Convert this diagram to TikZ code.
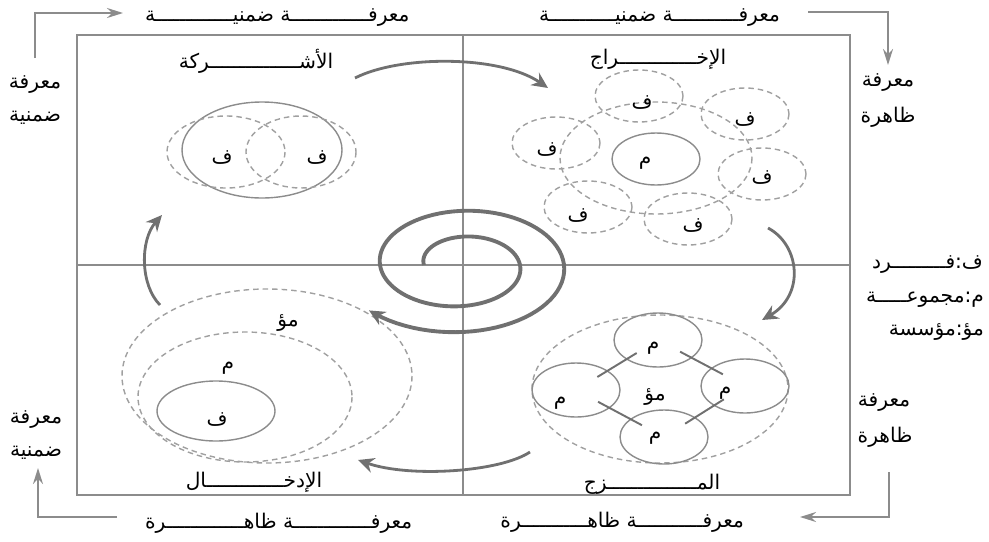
\documentclass[tikz,border=0pt]{standalone}
\usepackage{fontspec}
\usepackage{tikz}
\usetikzlibrary{arrows.meta}
\newfontfamily\arabicfont[Script=Arabic]{DejaVu Sans}
\TeXXeTstate=1
\definecolor{framegray}{HTML}{8C8C8C}
\definecolor{arcgray}{HTML}{707070}
\definecolor{dashgray}{HTML}{A0A0A0}
\newcommand{\rtl}[1]{\beginR #1\endR}

\begin{document}
\begin{tikzpicture}[x=0.02cm,y=-0.02cm,
  txt/.style={font=\arabicfont\fontsize{11.5}{13}\selectfont,inner sep=1pt},
  quadframe/.style={draw=framegray,line width=0.8pt},
  solidc/.style={draw=framegray,line width=0.8pt},
  dashc/.style={draw=dashgray,line width=0.8pt,dash pattern=on 1.1mm off 0.8mm},
  cyclearrow/.style={draw=arcgray,line width=1.6pt,-{Stealth[length=3.2mm,width=3mm]}},
  spiral/.style={draw=arcgray,line width=2.2pt,-{Stealth[length=3.2mm,width=3mm]}},
  cornerarrow/.style={draw=framegray,line width=1.1pt,-{Stealth[length=3.2mm,width=2mm]}},
  grouplink/.style={draw=arcgray,line width=1.1pt,shorten <=0.5cm,shorten >=0.5cm}]
\useasboundingbox (0,0) rectangle (989,541);
% frame and quadrants
\draw[quadframe] (77,35) rectangle (850,495);
\draw[quadframe] (463,35) -- (463,495);
\draw[quadframe] (77,265) -- (850,265);

% outer texts
\node[txt,anchor=west] (topL) at (143,18) {\rtl{معرفـــــــــــــة ضمنيـــــــــــــة}};
\node[txt,anchor=east] (topR) at (782,18) {\rtl{معرفـــــــــــة ضمنيـــــــــــة}};
\node[txt,anchor=west] (botL) at (143,523) {\rtl{معرفـــــــــــــة ظاهـــــــــــــرة}};
\node[txt,anchor=east] (botR) at (746,522) {\rtl{معرفـــــــــــة ظاهـــــــــــرة}};
\node[txt] (lt1) at (35,85) {\rtl{معرفة}};
\node[txt] (lt2) at (35,118) {\rtl{ضمنية}};
\node[txt] (rt1) at (888,83) {\rtl{معرفة}};
\node[txt] (rt2) at (888,117) {\rtl{ظاهرة}};
\node[txt] (lb1) at (36,420) {\rtl{معرفة}};
\node[txt] (lb2) at (36,453) {\rtl{ضمنية}};
\node[txt] (rb1) at (884,403) {\rtl{معرفة}};
\node[txt] (rb2) at (885,437) {\rtl{ظاهرة}};

% corner arrows
\coordinate (c1a) at (35,58);   \coordinate (c1b) at (123,13);
\coordinate (c2a) at (808,12);  \coordinate (c2b) at (888,65);
\coordinate (c3a) at (889,472); \coordinate (c3b) at (800,517);
\coordinate (c4a) at (117,517); \coordinate (c4b) at (38,468);
\draw[cornerarrow] (c1a) |- (c1b);
\draw[cornerarrow] (c2a) -| (c2b);
\draw[cornerarrow] (c3a) |- (c3b);
\draw[cornerarrow] (c4a) -| (c4b);

% legend
\node[txt,anchor=east] (key1) at (985,265) {\rtl{ف:فـــــــــرد}};
\node[txt,anchor=east] (key2) at (986,300) {\rtl{م:مجموعـــــة}};
\node[txt,anchor=east] (key3) at (986,332) {\rtl{مؤ:مؤسسة}};

% quadrant titles
\node[txt] (socl) at (256,61) {\rtl{الأشـــــــــــــــركة}};
\node[txt] (extl) at (658,59) {\rtl{الإخـــــــــــــراج}};
\node[txt] (intl) at (254,482) {\rtl{الإدخـــــــــــــال}};
\node[txt] (coml) at (652,484) {\rtl{المـــــــــــــــزج}};

% top left
\draw[solidc] (262,150) ellipse [x radius=80, y radius=48];
\draw[dashc] (226,152) ellipse [x radius=59, y radius=36];
\draw[dashc] (301,152) ellipse [x radius=55, y radius=36];
\node[txt] (sf1) at (222,158) {\rtl{ف}};
\node[txt] (sf2) at (317,158) {\rtl{ف}};

% top right
\draw[dashc] (656,158) ellipse [x radius=96, y radius=56];
\draw[solidc] (656,159) ellipse [x radius=44, y radius=26];
\node[txt] (em) at (645,163) {\rtl{م}};
\foreach \cx/\cy/\lx/\ly/\nm in {639/96/642/103/e1, 745/114/745/120/e2, 762/174/762/178/e3,
    688/219/693/226/e4, 588/207/578/216/e5, 556/143/547/150/e6}{
  \draw[dashc] (\cx,\cy) ellipse [x radius=44, y radius=26];
  \node[txt] (\nm) at (\lx,\ly) {\rtl{ف}};
}

% bottom left
\draw[dashc] (267,376) ellipse [x radius=145, y radius=87];
\draw[dashc] (245,397) ellipse [x radius=107, y radius=65];
\draw[solidc] (216,411) ellipse [x radius=59, y radius=30];
\node[txt] (io) at (288,323) {\rtl{مؤ}};
\node[txt] (ig) at (228,368) {\rtl{م}};
\node[txt] (ii) at (217,420) {\rtl{ف}};

% bottom right
\draw[dashc] (660,389) ellipse [x radius=128, y radius=74];
\coordinate (gT) at (658,340);
\coordinate (gL) at (576,390);
\coordinate (gR) at (745,386);
\coordinate (gB) at (664,437);
\foreach \g in {gT,gL,gR,gB}
  \draw[solidc] (\g) ellipse [x radius=44, y radius=27];
\draw[grouplink] (gT) -- (gL);
\draw[grouplink] (gT) -- (gR);
\draw[grouplink] (gL) -- (gB);
\draw[grouplink] (gB) -- (gR);
\node[txt] (mT) at (653,348) {\rtl{م}};
\node[txt] (mL) at (560,403) {\rtl{م}};
\node[txt] (mR) at (725,393) {\rtl{م}};
\node[txt] (mB) at (655,438) {\rtl{م}};
\node[txt] (mO) at (655,397) {\rtl{مؤ}};

% cycle arrows
\coordinate (a1) at (355,78);  \coordinate (a2) at (548,88);
\coordinate (a3) at (768,228); \coordinate (a4) at (762,320);
\coordinate (a5) at (530,452); \coordinate (a6) at (358,460);
\coordinate (a7) at (160,305); \coordinate (a8) at (162,215);
\draw[cyclearrow] (a1) .. controls (400,55) and (500,55) .. (a2);
\draw[cyclearrow] (a3) .. controls (800,245) and (805,295) .. (a4);
\draw[cyclearrow] (a5) .. controls (500,472) and (410,478) .. (a6);
\draw[cyclearrow] (a7) .. controls (140,285) and (140,240) .. (a8);

% spiral
\draw[spiral] plot[domain=0:680,samples=160,variable=\t]
  ({461+(37+0.12222*\t)*cos(180-\t)},{265-(37+0.12222*\t)/1.7*sin(180-\t)});
\end{tikzpicture}
\end{document}
